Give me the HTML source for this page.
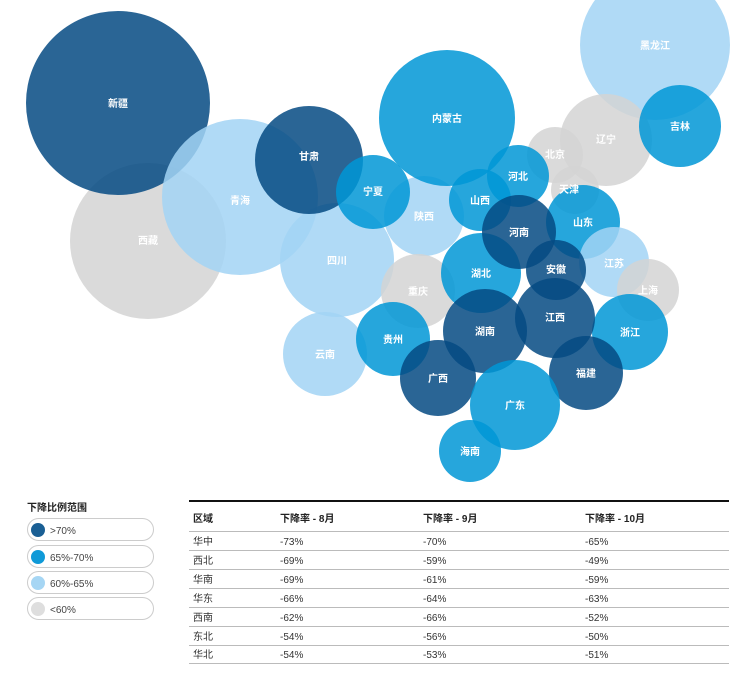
<!DOCTYPE html>
<html><head><meta charset="utf-8"><style>
body{margin:0;background:#fff;font-family:"Liberation Sans","Noto Sans CJK SC",sans-serif;}
svg text{font-family:"Liberation Sans","Noto Sans CJK SC",sans-serif;}
circle.b{fill-opacity:0.85}
</style></head><body>
<svg width="754" height="675" xmlns="http://www.w3.org/2000/svg">
<g>
<circle class="b" cx="148" cy="241" r="78" fill="#d3d3d3"/>
<circle class="b" cx="118" cy="103" r="92" fill="#054a82"/>
<circle class="b" cx="240" cy="197" r="78" fill="#a2d4f4"/>
<circle class="b" cx="337" cy="260" r="57" fill="#a2d4f4"/>
<circle class="b" cx="309" cy="160" r="54" fill="#054a82"/>
<circle class="b" cx="424" cy="216" r="40" fill="#a2d4f4"/>
<circle class="b" cx="373" cy="192" r="37" fill="#0096d6"/>
<circle class="b" cx="447" cy="118" r="68" fill="#0096d6"/>
<circle class="b" cx="655" cy="45" r="75" fill="#a2d4f4"/>
<circle class="b" cx="606" cy="140" r="46" fill="#d3d3d3"/>
<circle class="b" cx="680" cy="126" r="41" fill="#0096d6"/>
<circle class="b" cx="555" cy="155" r="28" fill="#d3d3d3"/>
<circle class="b" cx="575" cy="190" r="24" fill="#d3d3d3"/>
<circle class="b" cx="518" cy="176" r="31" fill="#0096d6"/>
<circle class="b" cx="480" cy="200" r="31" fill="#0096d6"/>
<circle class="b" cx="583" cy="222" r="37" fill="#0096d6"/>
<circle class="b" cx="614" cy="262" r="35" fill="#a2d4f4"/>
<circle class="b" cx="648" cy="290" r="31" fill="#d3d3d3"/>
<circle class="b" cx="418" cy="291" r="37" fill="#d3d3d3"/>
<circle class="b" cx="481" cy="273" r="40" fill="#0096d6"/>
<circle class="b" cx="519" cy="232" r="37" fill="#054a82"/>
<circle class="b" cx="556" cy="270" r="30" fill="#054a82"/>
<circle class="b" cx="630" cy="332" r="38" fill="#0096d6"/>
<circle class="b" cx="325" cy="354" r="42" fill="#a2d4f4"/>
<circle class="b" cx="393" cy="339" r="37" fill="#0096d6"/>
<circle class="b" cx="555" cy="318" r="40" fill="#054a82"/>
<circle class="b" cx="485" cy="331" r="42" fill="#054a82"/>
<circle class="b" cx="586" cy="373" r="37" fill="#054a82"/>
<circle class="b" cx="438" cy="378" r="38" fill="#054a82"/>
<circle class="b" cx="515" cy="405" r="45" fill="#0096d6"/>
<circle class="b" cx="470" cy="451" r="31" fill="#0096d6"/>
</g>
<g fill="#fff" font-size="10" font-weight="bold" text-anchor="middle">
<text x="118" y="107">新疆</text><text x="148" y="244">西藏</text><text x="240" y="204">青海</text>
<text x="309" y="160">甘肃</text><text x="373" y="195">宁夏</text><text x="447" y="122">内蒙古</text>
<text x="655" y="49">黑龙江</text><text x="680" y="130">吉林</text><text x="606" y="143">辽宁</text>
<text x="555" y="158">北京</text><text x="569" y="193">天津</text><text x="518" y="180">河北</text>
<text x="480" y="204">山西</text><text x="424" y="220">陕西</text><text x="337" y="264">四川</text>
<text x="519" y="236">河南</text><text x="583" y="226">山东</text><text x="481" y="277">湖北</text>
<text x="556" y="273">安徽</text><text x="614" y="267">江苏</text><text x="648" y="294">上海</text>
<text x="418" y="295">重庆</text><text x="555" y="321">江西</text><text x="485" y="335">湖南</text>
<text x="630" y="336">浙江</text><text x="393" y="343">贵州</text><text x="325" y="358">云南</text>
<text x="438" y="382">广西</text><text x="586" y="377">福建</text><text x="515" y="409">广东</text>
<text x="470" y="455">海南</text>
</g>
<text x="27" y="511" font-size="10" font-weight="bold" fill="#222">下降比例范围</text>
<g font-size="10" fill="#444">
<rect x="27.5" y="518.5" width="126" height="22" rx="11" fill="#fff" stroke="#ccc"/>
<circle cx="38" cy="530" r="7" fill="#1a5f94"/><text x="50" y="534">&gt;70%</text>
<rect x="27.5" y="545.5" width="126" height="22" rx="11" fill="#fff" stroke="#ccc"/>
<circle cx="38" cy="557" r="7" fill="#0f9ad8"/><text x="50" y="561">65%-70%</text>
<rect x="27.5" y="571.5" width="126" height="22" rx="11" fill="#fff" stroke="#ccc"/>
<circle cx="38" cy="583" r="7" fill="#a6d6f4"/><text x="50" y="587">60%-65%</text>
<rect x="27.5" y="597.5" width="126" height="22" rx="11" fill="#fff" stroke="#ccc"/>
<circle cx="38" cy="609" r="7" fill="#dedede"/><text x="50" y="613">&lt;60%</text>
</g>
<line x1="189" y1="501" x2="729" y2="501" stroke="#111" stroke-width="2"/>
<g font-size="10" font-weight="bold" fill="#222">
<text x="193" y="522">区域</text><text x="280" y="522">下降率 - 8月</text><text x="423" y="522">下降率 - 9月</text><text x="585" y="522">下降率 - 10月</text>
</g>
<g stroke="#bbb" stroke-width="1">
<line x1="189" y1="531.5" x2="729" y2="531.5"/><line x1="189" y1="550.5" x2="729" y2="550.5"/>
<line x1="189" y1="569.5" x2="729" y2="569.5"/><line x1="189" y1="588.5" x2="729" y2="588.5"/>
<line x1="189" y1="607.5" x2="729" y2="607.5"/><line x1="189" y1="626.5" x2="729" y2="626.5"/>
<line x1="189" y1="645.5" x2="729" y2="645.5"/><line x1="189" y1="663.5" x2="729" y2="663.5"/>
</g>
<g font-size="10" fill="#333">
<text x="193" y="545">华中</text><text x="280" y="545">-73%</text><text x="423" y="545">-70%</text><text x="585" y="545">-65%</text>
<text x="193" y="564">西北</text><text x="280" y="564">-69%</text><text x="423" y="564">-59%</text><text x="585" y="564">-49%</text>
<text x="193" y="583">华南</text><text x="280" y="583">-69%</text><text x="423" y="583">-61%</text><text x="585" y="583">-59%</text>
<text x="193" y="602">华东</text><text x="280" y="602">-66%</text><text x="423" y="602">-64%</text><text x="585" y="602">-63%</text>
<text x="193" y="621">西南</text><text x="280" y="621">-62%</text><text x="423" y="621">-66%</text><text x="585" y="621">-52%</text>
<text x="193" y="640">东北</text><text x="280" y="640">-54%</text><text x="423" y="640">-56%</text><text x="585" y="640">-50%</text>
<text x="193" y="658">华北</text><text x="280" y="658">-54%</text><text x="423" y="658">-53%</text><text x="585" y="658">-51%</text>
</g>
</svg>
</body></html>
